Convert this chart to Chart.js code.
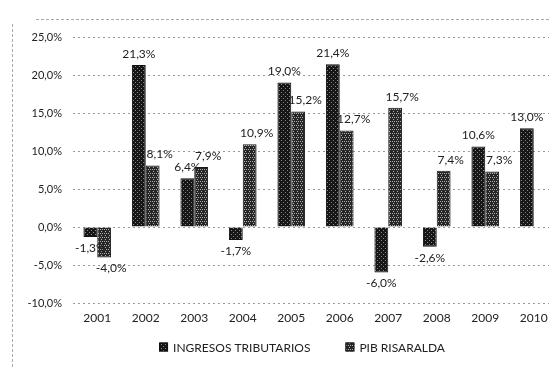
<!DOCTYPE html>
<html>
<head>
<meta charset="utf-8">
<script src="https://cdn.jsdelivr.net/npm/chart.js@4.4.1/dist/chart.umd.min.js"></script>
<style>
  html, body { margin: 0; padding: 0; background: #fff; overflow: hidden; width: 549px; height: 369px; }
  #chart { display: block; }
</style>
</head>
<body>
<canvas id="chart" width="560" height="369"></canvas>
<script>
// Crecimiento anual: ingresos tributarios vs PIB Risaralda (%)

const years = ['2001', '2002', '2003', '2004', '2005', '2006', '2007', '2008', '2009', '2010'];
const ingresosTributarios = [-1.3, 21.3, 6.4, -1.7, 19.0, 21.4, -6.0, -2.6, 10.6, 13.0];
const pibRisaralda = [-4.0, 8.1, 7.9, 10.9, 15.2, 12.7, 15.7, 7.4, 7.3, null];
const seriesNames = ['INGRESOS TRIBUTARIOS', 'PIB RISARALDA'];

const FONT = 'Lato, "Open Sans", sans-serif';

// --- Bar textures (small repeating tiles) ---

function makePattern(base, speck, spots) {
    const tile = document.createElement('canvas');
    tile.width = 4;
    tile.height = 4;
    const t = tile.getContext('2d');
    t.fillStyle = base;
    t.fillRect(0, 0, 4, 4);
    t.fillStyle = speck;
    spots.forEach(([x, y]) => t.fillRect(x, y, 1, 1));
    return t.createPattern(tile, 'repeat');
}

const ctx = document.getElementById('chart').getContext('2d');
const fillIngresos = makePattern('#161616', '#8a8a8a', [[1, 0], [3, 2]]);
const fillPib = makePattern('#262626', '#b0b0b0', [[0, 1], [2, 1], [1, 3]]);

const fmtPct = (v) => v.toFixed(1).replace('.', ',') + '%';

// --- Value labels at the end of each bar ---
// second series labels sit a little to the right so they clear the first bar

const labelShift = [0, 7];

const valueLabels = {
    id: 'valueLabels',
    afterDatasetsDraw(chart) {
        const c = chart.ctx;
        c.save();
        c.font = '12px ' + FONT;
        c.fillStyle = '#222';
        c.textAlign = 'center';
        chart.data.datasets.forEach((ds, i) => {
            chart.getDatasetMeta(i).data.forEach((bar, j) => {
                const v = ds.data[j];
                if (v === null || v === undefined) return;
                const x = bar.x + labelShift[i];
                if (v >= 0) {
                    c.textBaseline = 'bottom';
                    c.fillText(fmtPct(v), x, bar.y - 5);
                } else {
                    c.textBaseline = 'top';
                    c.fillText(fmtPct(v), x, bar.y + 5);
                }
            });
        });
        c.restore();
    }
};

// --- Legend under the axis, items spread apart ---

const bottomLegend = {
    id: 'bottomLegend',
    afterDraw(chart) {
        const c = chart.ctx;
        const box = 9, gap = 5, spread = 35, cy = 347, centre = 302;
        c.save();
        c.font = '12px ' + FONT;
        const widths = chart.data.datasets.map(ds => box + gap + c.measureText(ds.label).width);
        const total = widths.reduce((a, b) => a + b, 0) + spread * (widths.length - 1);
        let x = centre - total / 2;
        chart.data.datasets.forEach((ds, i) => {
            c.fillStyle = ds.backgroundColor;
            c.fillRect(x, cy - box / 2, box, box);
            c.strokeStyle = ds.borderColor;
            c.lineWidth = 1;
            c.strokeRect(x + 0.5, cy - box / 2 + 0.5, box - 1, box - 1);
            c.fillStyle = '#222';
            c.textAlign = 'left';
            c.textBaseline = 'middle';
            c.fillText(ds.label, x + box + gap, cy + 1);
            x += widths[i] + spread;
        });
        c.restore();
    }
};

// --- Dotted frame round the chart object ---

const frame = {
    id: 'frame',
    beforeDraw(chart) {
        const c = chart.ctx;
        c.save();
        c.strokeStyle = '#a8a8a8';
        c.lineWidth = 1;
        c.setLineDash([3, 2]);
        c.beginPath();
        c.moveTo(36, 19.5);
        c.lineTo(560, 19.5);
        c.moveTo(12.5, 24);
        c.lineTo(12.5, 369);
        c.stroke();
        c.restore();
    }
};

new Chart(ctx, {
    type: 'bar',
    data: {
        labels: years,
        datasets: [
            {
                label: seriesNames[0],
                data: ingresosTributarios,
                backgroundColor: fillIngresos,
                borderColor: '#111',
                borderWidth: 1,
                categoryPercentage: 0.57,
                barPercentage: 1.0
            },
            {
                label: seriesNames[1],
                data: pibRisaralda,
                backgroundColor: fillPib,
                borderColor: '#1a1a1a',
                borderWidth: 1,
                categoryPercentage: 0.57,
                barPercentage: 1.0
            }
        ]
    },
    options: {
        responsive: false,
        animation: false,
        layout: {
            padding: { top: 37, left: 0, right: 2, bottom: 36 }
        },
        scales: {
            x: {
                grid: { display: false, drawTicks: false },
                border: { display: false },
                ticks: {
                    color: '#222',
                    font: { family: FONT, size: 12 },
                    padding: 8
                },
                afterFit: (scale) => { scale.height = 30; }
            },
            y: {
                min: -10,
                max: 25,
                ticks: {
                    stepSize: 5,
                    color: '#222',
                    font: { family: FONT, size: 11 },
                    padding: 11,
                    callback: (v) => fmtPct(v)
                },
                grid: {
                    color: '#9a9a9a',
                    lineWidth: 1,
                    drawTicks: false
                },
                border: { display: false, dash: [2, 3] },
                afterFit: (scale) => { scale.width = 73; }
            }
        },
        plugins: {
            legend: { display: false },
            tooltip: { enabled: false }
        }
    },
    plugins: [valueLabels, bottomLegend, frame]
});
</script>
</body>
</html>
